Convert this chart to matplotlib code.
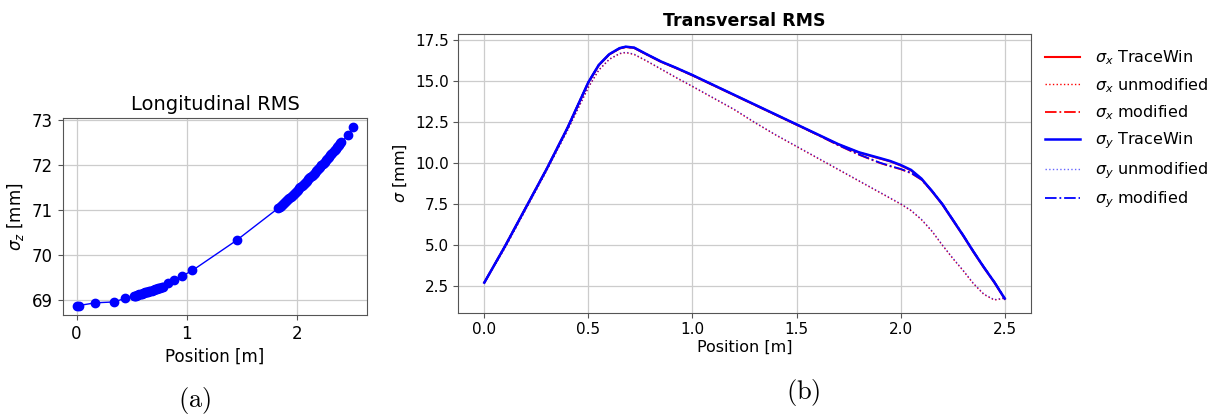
import matplotlib
matplotlib.use("Agg")
import matplotlib.pyplot as plt

plt.rcParams['mathtext.fontset'] = 'dejavusans'

# Longitudinal RMS (panel a)
long_pos = [0.0, 0.02, 0.17, 0.34, 0.44,
            0.52, 0.53, 0.54, 0.55, 0.56, 0.57, 0.58, 0.59, 0.60, 0.61, 0.62,
            0.63, 0.64, 0.65, 0.66, 0.67, 0.68, 0.69, 0.70, 0.71, 0.72, 0.73,
            0.74, 0.75, 0.76, 0.77, 0.78,
            0.83, 0.88, 0.96, 1.05, 1.45,
            1.83, 1.84, 1.85, 1.86, 1.87, 1.88, 1.89, 1.90, 1.91, 1.92, 1.93,
            1.94, 1.95, 1.96, 1.97, 1.98, 1.99, 2.00, 2.01, 2.02, 2.03, 2.04,
            2.05, 2.06, 2.07, 2.08, 2.09, 2.10, 2.11, 2.12, 2.13, 2.14, 2.15,
            2.16, 2.17, 2.18, 2.19, 2.20, 2.21, 2.22, 2.23, 2.24, 2.25, 2.26,
            2.27, 2.28, 2.29, 2.30, 2.31, 2.32, 2.33, 2.34, 2.35, 2.36, 2.37,
            2.38, 2.39, 2.40,
            2.46, 2.51]
long_sigma_z = [68.86, 68.87, 68.93, 68.95, 69.03,
                69.08, 69.09, 69.09, 69.10, 69.11, 69.12, 69.13, 69.13, 69.14,
                69.15, 69.16, 69.16, 69.17, 69.18, 69.19, 69.20, 69.20, 69.21,
                69.22, 69.23, 69.24, 69.24, 69.25, 69.26, 69.27, 69.28, 69.29,
                69.38, 69.44, 69.53, 69.65, 70.32,
                71.04, 71.06, 71.08, 71.10, 71.13, 71.15, 71.17, 71.20, 71.22,
                71.24, 71.26, 71.29, 71.31, 71.33, 71.35, 71.38, 71.40, 71.43,
                71.45, 71.48, 71.50, 71.53, 71.55, 71.58, 71.60, 71.63, 71.65,
                71.68, 71.70, 71.73, 71.75, 71.78, 71.80, 71.83, 71.86, 71.88,
                71.91, 71.93, 71.96, 71.99, 72.02, 72.04, 72.07, 72.10, 72.13,
                72.15, 72.18, 72.21, 72.24, 72.27, 72.30, 72.33, 72.36, 72.39,
                72.42, 72.45, 72.48, 72.50,
                72.66, 72.84]

# Transversal RMS (panel b)
trans_pos = [0.0, 0.1, 0.2, 0.3, 0.4, 0.5, 0.55, 0.6, 0.65, 0.68, 0.72, 0.78,
             0.85, 0.92, 1.0, 1.1, 1.2, 1.3, 1.4, 1.5, 1.6, 1.7, 1.8, 1.9,
             1.95, 2.0, 2.05, 2.1, 2.15, 2.2, 2.25, 2.3, 2.35, 2.4, 2.45, 2.5]
sx_tracewin = [2.72, 4.95, 7.3, 9.65, 12.15, 14.9, 15.95, 16.6, 16.97, 17.06,
               17.0, 16.6, 16.15, 15.78, 15.33, 14.73, 14.13, 13.53, 12.93,
               12.33, 11.73, 11.13, 10.63, 10.27, 10.1, 9.85, 9.55, 9.02,
               8.28, 7.48, 6.53, 5.58, 4.58, 3.63, 2.73, 1.73]
sx_unmod = [2.72, 4.85, 7.2, 9.55, 12.0, 14.6, 15.65, 16.3, 16.65, 16.72,
            16.6, 16.2, 15.7, 15.2, 14.65, 13.95, 13.25, 12.45, 11.7, 11.0,
            10.3, 9.6, 8.9, 8.2, 7.85, 7.5, 7.1, 6.55, 5.85, 5.0, 4.2, 3.45,
            2.65, 2.0, 1.66, 1.77]
sx_mod = [2.72, 4.95, 7.3, 9.65, 12.15, 14.9, 15.95, 16.6, 16.97, 17.06,
          17.0, 16.6, 16.15, 15.78, 15.33, 14.73, 14.13, 13.53, 12.93, 12.33,
          11.72, 11.08, 10.5, 10.0, 9.8, 9.62, 9.38, 8.98, 8.3, 7.5, 6.55,
          5.6, 4.6, 3.65, 2.75, 1.75]
sy_tracewin = [2.72, 4.95, 7.3, 9.65, 12.15, 14.92, 15.97, 16.62, 16.99,
               17.08, 17.02, 16.62, 16.17, 15.8, 15.35, 14.75, 14.15, 13.55,
               12.95, 12.35, 11.75, 11.15, 10.65, 10.3, 10.12, 9.88, 9.58,
               9.05, 8.3, 7.5, 6.55, 5.6, 4.6, 3.65, 2.75, 1.75]
sy_unmod = [2.72, 4.85, 7.2, 9.55, 12.0, 14.62, 15.67, 16.32, 16.67, 16.74,
            16.62, 16.22, 15.72, 15.22, 14.67, 13.97, 13.27, 12.47, 11.72,
            11.02, 10.32, 9.62, 8.92, 8.22, 7.87, 7.52, 7.12, 6.57, 5.87, 5.02,
            4.22, 3.47, 2.67, 2.02, 1.68, 1.79]
sy_mod = [2.72, 4.95, 7.3, 9.65, 12.15, 14.92, 15.97, 16.62, 16.99, 17.08,
          17.02, 16.62, 16.17, 15.8, 15.35, 14.75, 14.15, 13.55, 12.95, 12.35,
          11.74, 11.1, 10.52, 10.02, 9.82, 9.64, 9.4, 9.0, 8.32, 7.52, 6.57,
          5.62, 4.62, 3.67, 2.77, 1.77]


def style_axes(ax, size):
    ax.grid(True, color='#cccccc', linewidth=0.9)
    ax.set_axisbelow(True)
    for sp in ax.spines.values():
        sp.set_color('#555555')
    ax.tick_params(labelsize=size, color='#555555')


fig = plt.figure(figsize=(12.3, 4.16), dpi=100)

# panel (a)
ax1 = fig.add_axes([0.051, 0.243, 0.2476, 0.4728])
ax1.plot(long_pos, long_sigma_z, color='blue', marker='o', markersize=6,
         linewidth=1)
style_axes(ax1, 12)
ax1.set_title('Longitudinal RMS', fontsize=14)
ax1.set_xlabel('Position [m]', fontsize=12)
ax1.set_ylabel(r'$\sigma_z$ [mm]', fontsize=12)
ax1.set_yticks([69, 70, 71, 72, 73])
ax1.set_xticks([0, 1, 2])

# panel (b)
ax2 = fig.add_axes([0.3726, 0.2483, 0.4654, 0.67])
ax2.plot(trans_pos, sx_tracewin, color='red', linewidth=1.5,
         label=r'$\sigma_x$ TraceWin')
ax2.plot(trans_pos, sx_unmod, color='red', linestyle=':', linewidth=1,
         label=r'$\sigma_x$ unmodified')
ax2.plot(trans_pos, sx_mod, color='red', linestyle='-.', linewidth=1.3,
         label=r'$\sigma_x$ modified')
ax2.plot(trans_pos, sy_tracewin, color='blue', linewidth=1.8,
         label=r'$\sigma_y$ TraceWin')
ax2.plot(trans_pos, sy_unmod, color='blue', linestyle=':', linewidth=1,
         alpha=0.6, label=r'$\sigma_y$ unmodified')
ax2.plot(trans_pos, sy_mod, color='blue', linestyle='-.', linewidth=1.3,
         label=r'$\sigma_y$ modified')
style_axes(ax2, 11)
ax2.set_title('Transversal RMS', fontsize=12.5, fontweight='bold')
ax2.set_xlabel('Position [m]', fontsize=11.5, labelpad=2)
ax2.set_ylabel(r'$\sigma$ [mm]', fontsize=11.5)
ax2.set_xticks([0.0, 0.5, 1.0, 1.5, 2.0, 2.5])
ax2.set_yticks([2.5, 5.0, 7.5, 10.0, 12.5, 15.0, 17.5])
ax2.legend(loc='upper left', bbox_to_anchor=(1.0, 1.0), frameon=False,
           fontsize=11.5, handlelength=2.2, handletextpad=0.9,
           labelspacing=0.55)

# captions
fig.text(195 / 1230, 1 - 400 / 416, r'$\mathrm{(a)}$', fontsize=19,
         ha='center', va='center', math_fontfamily='cm')
fig.text(803 / 1230, 1 - 392 / 416, r'$\mathrm{(b)}$', fontsize=19,
         ha='center', va='center', math_fontfamily='cm')

fig.savefig('out.png', dpi=100)
